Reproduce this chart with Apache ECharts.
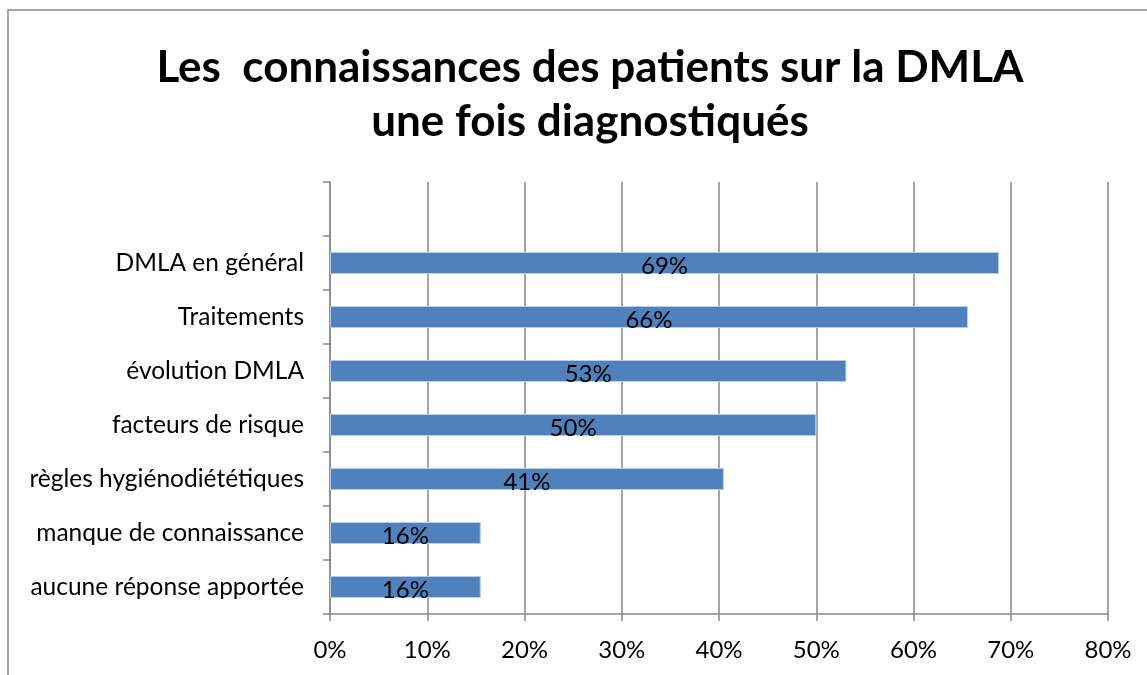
<!DOCTYPE html>
<html><head><meta charset="utf-8">
<script src="https://cdn.jsdelivr.net/npm/echarts@6/dist/echarts.min.js"></script>
<style>html,body{margin:0;padding:0;background:#fff}#c{width:1147px;height:675px}</style>
</head><body><div id="c"></div>
<script>
const categories = ['aucune réponse apportée','manque de connaissance','règles hygiénodiététiques','facteurs de risque','évolution DMLA','Traitements','DMLA en général',''];
const values = [15.5, 15.5, 40.5, 50.0, 53.1, 65.6, 68.8, '-'];
const labels = ['16%','16%','41%','50%','53%','66%','69%',''];
const xTicks = [0,10,20,30,40,50,60,70,80];

const chart = echarts.init(document.getElementById('c'));
const F = 'Lato, "Open Sans", sans-serif';
chart.setOption({
  animation:false,
  graphic:[{type:'polyline',shape:{points:[[8,675],[8,10],[1147,10]]},style:{stroke:'#888',lineWidth:1.5,fill:null}}],
  title:{text:'Les  connaissances des patients sur la DMLA\nune fois diagnostiqués',left:585,top:36,textAlign:'center',
    textStyle:{fontFamily:F,fontSize:44,fontWeight:'bold',color:'#000',lineHeight:54}},
  grid:{left:330,right:39,top:182,bottom:61,containLabel:false},
  xAxis:{type:'value',min:xTicks[0],max:xTicks[xTicks.length-1],interval:10,
    axisLine:{show:true,lineStyle:{color:'#888',width:1.5}},
    axisTick:{show:true,length:7,lineStyle:{color:'#888',width:1.5}},
    splitLine:{show:true,lineStyle:{color:'#888',width:1.5}},
    axisLabel:{fontFamily:F,fontSize:24,color:'#000',margin:24,formatter:v=>v+'%'}},
  yAxis:{type:'category',data:categories,
    axisLine:{show:true,lineStyle:{color:'#888',width:1.5}},
    axisTick:{show:true,length:7,lineStyle:{color:'#888',width:1.5}},
    axisLabel:{fontFamily:F,fontSize:24.5,color:'#000',margin:26}},
  series:[{type:'bar',data:values,barWidth:22,
    itemStyle:{color:'#4F81BD',borderColor:'#B9CDE5',borderWidth:1},
    label:{show:true,position:'inside',offset:[0,3],fontFamily:F,fontSize:24,color:'#000',
      formatter:p=>labels[p.dataIndex]}}]
});
</script></body></html>
